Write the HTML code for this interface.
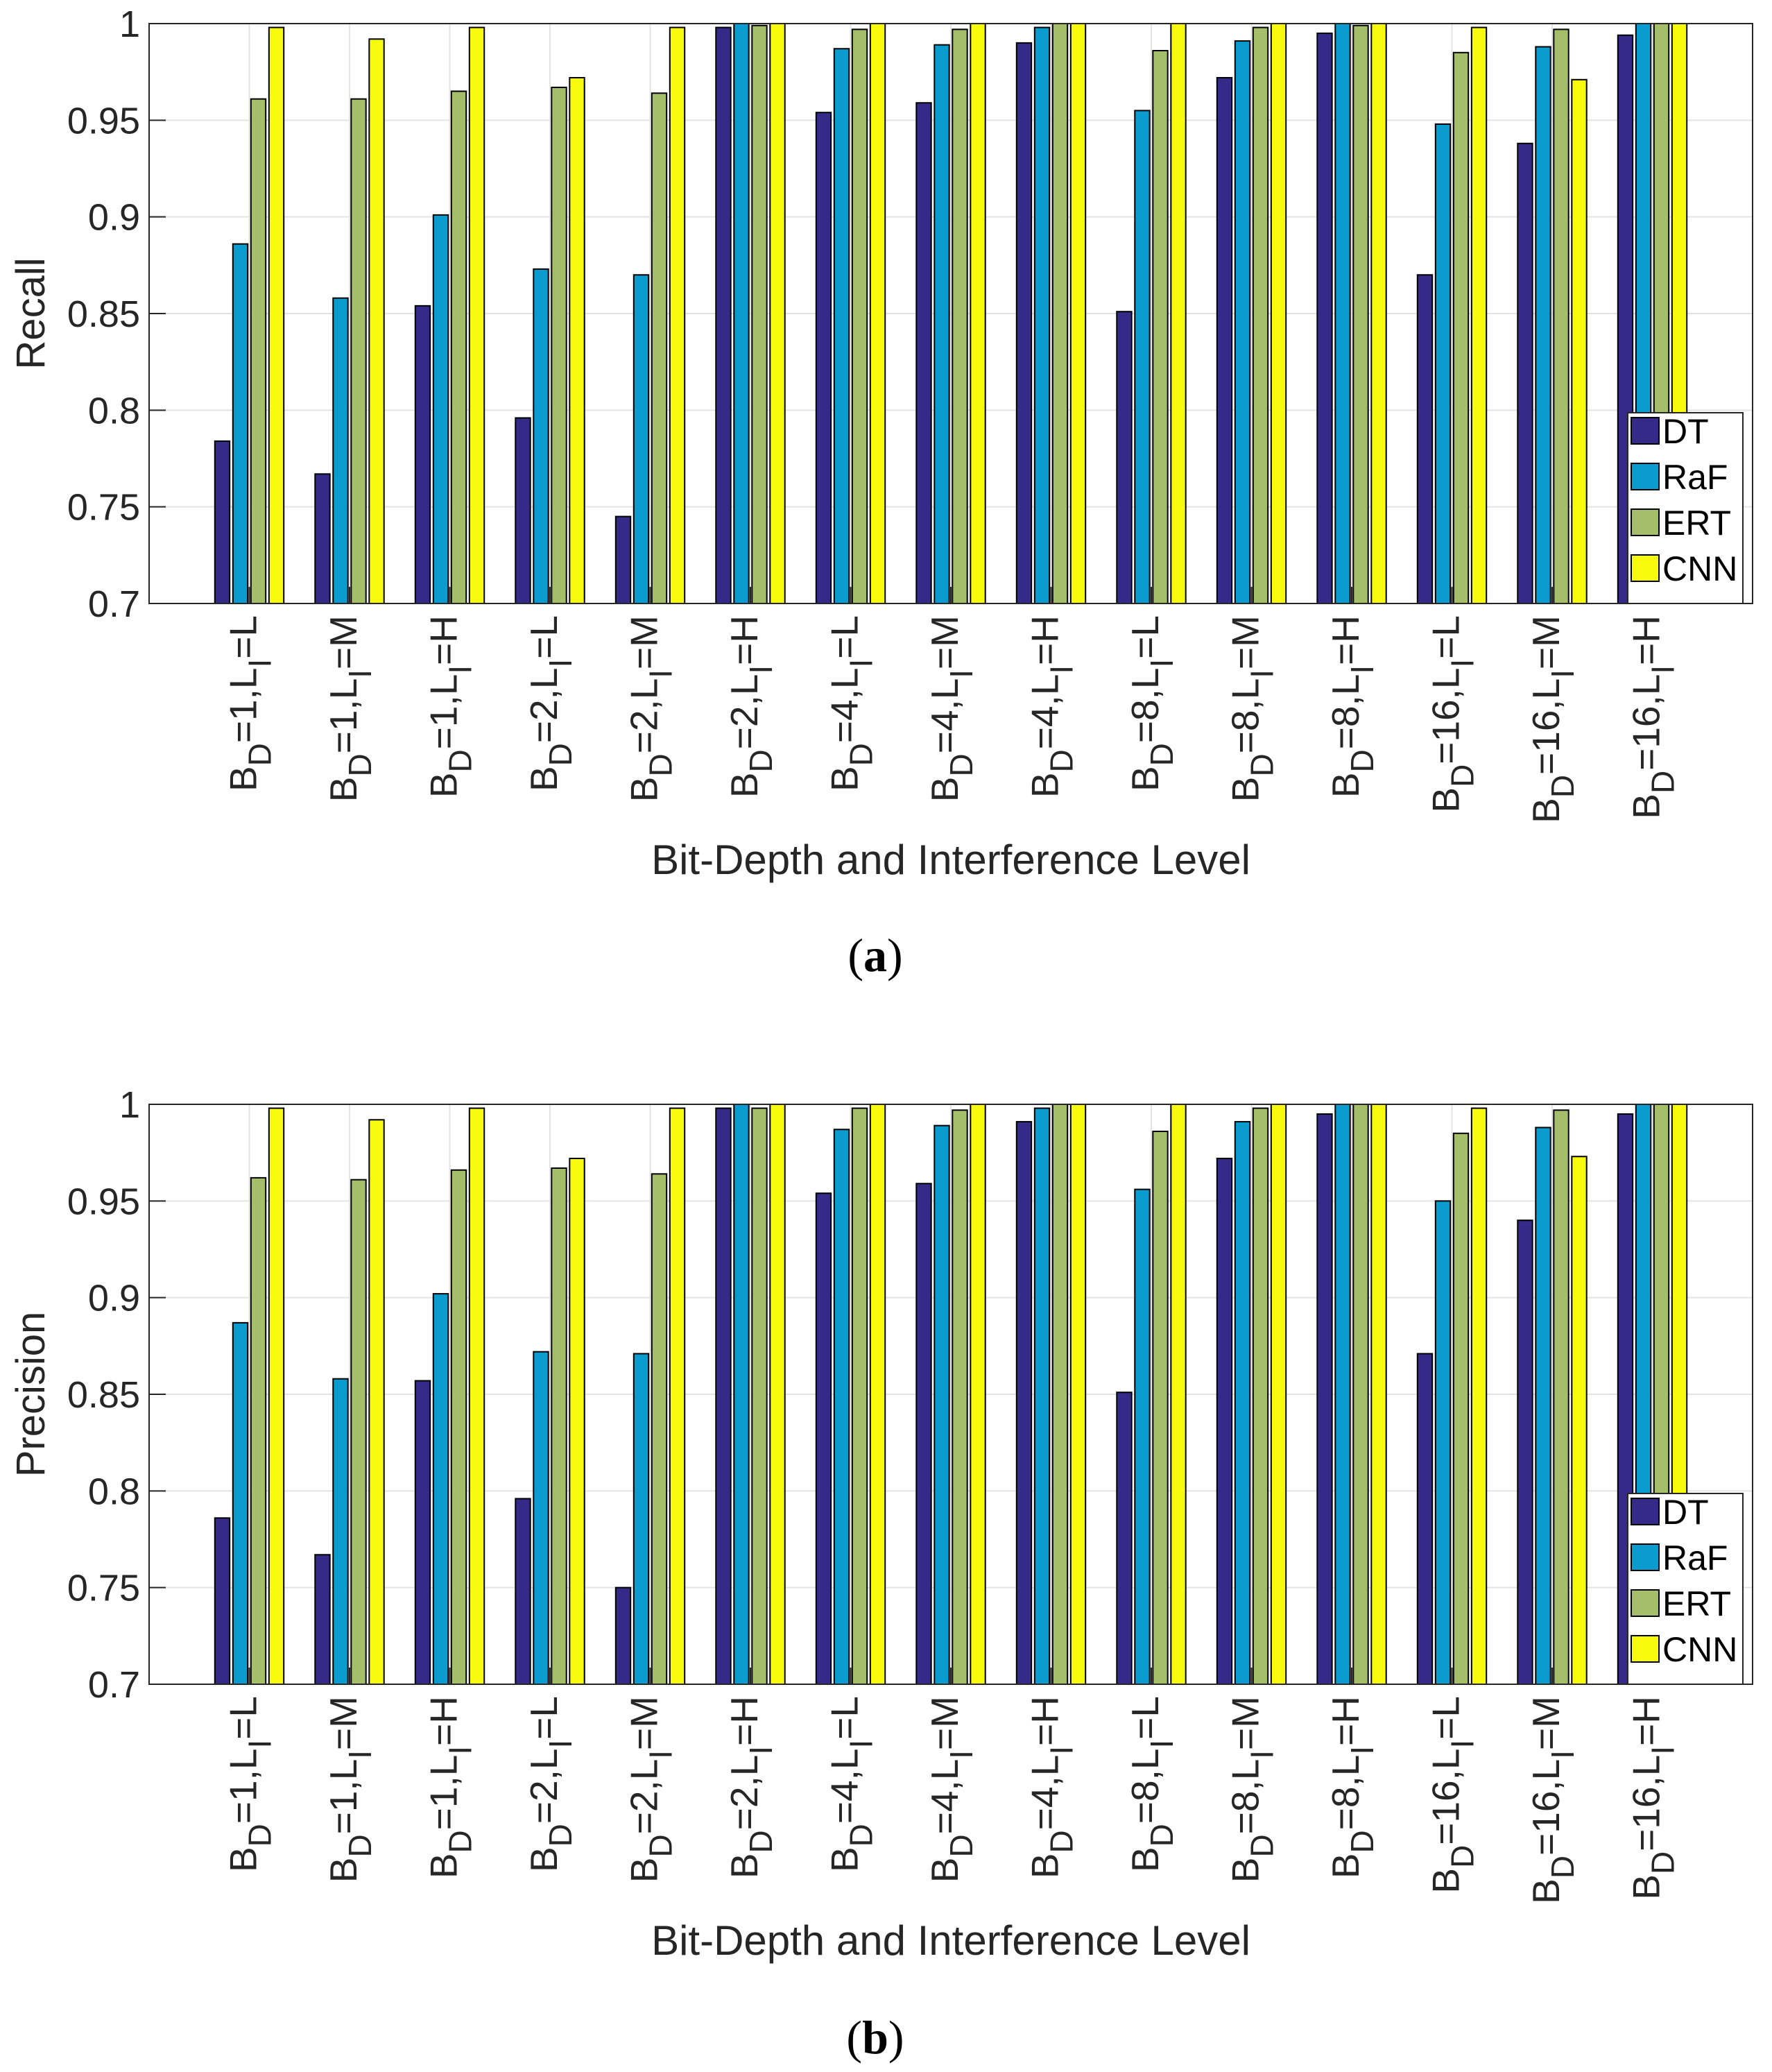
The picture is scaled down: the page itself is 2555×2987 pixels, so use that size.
<!DOCTYPE html>
<html><head><meta charset="utf-8"><style>
html,body{margin:0;padding:0;background:#fff;}
svg{display:block;font-family:"Liberation Sans",Arial,sans-serif;}
</style></head><body>
<svg id="fig" width="2555" height="2987" viewBox="0 0 2555 2987" xmlns="http://www.w3.org/2000/svg"></svg>
<script>
const categories=[["1","L"],["1","M"],["1","H"],["2","L"],["2","M"],["2","H"],["4","L"],["4","M"],["4","H"],["8","L"],["8","M"],["8","H"],["16","L"],["16","M"],["16","H"]];
const seriesNames=["DT","RaF","ERT","CNN"];
const recallDT=[0.784,0.767,0.854,0.796,0.745,0.998,0.954,0.959,0.990,0.851,0.972,0.995,0.870,0.938,0.994];
const recallRaF=[0.886,0.858,0.901,0.873,0.870,1.0,0.987,0.989,0.998,0.955,0.991,1.0,0.948,0.988,1.0];
const recallERT=[0.961,0.961,0.965,0.967,0.964,0.999,0.997,0.997,1.0,0.986,0.998,0.999,0.985,0.997,1.0];
const recallCNN=[0.998,0.992,0.998,0.972,0.998,1.0,1.0,1.0,1.0,1.0,1.0,1.0,0.998,0.971,1.0];
const precDT=[0.786,0.767,0.857,0.796,0.750,0.998,0.954,0.959,0.991,0.851,0.972,0.995,0.871,0.940,0.995];
const precRaF=[0.887,0.858,0.902,0.872,0.871,1.0,0.987,0.989,0.998,0.956,0.991,1.0,0.950,0.988,1.0];
const precERT=[0.962,0.961,0.966,0.967,0.964,0.998,0.998,0.997,1.0,0.986,0.998,1.0,0.985,0.997,1.0];
const precCNN=[0.998,0.992,0.998,0.972,0.998,1.0,1.0,1.0,1.0,1.0,1.0,1.0,0.998,0.973,1.0];
const yTicks=[0.7,0.75,0.8,0.85,0.9,0.95,1];
const yTickLabels=["0.7","0.75","0.8","0.85","0.9","0.95","1"];
const colors=["#352a87","#0a9bcf","#a5be69","#f8fa0d"];
const NS="http://www.w3.org/2000/svg";
const svg=document.getElementById("fig");
function mk(tag,attrs,parent){const e=document.createElementNS(NS,tag);for(const k in attrs)e.setAttribute(k,attrs[k]);(parent||svg).appendChild(e);return e;}

function drawPanel(cfg){
  const L=215,R=2527,T=cfg.top,B=cfg.bottom;
  const g=mk("g",{});
  
  
  const xS=v=>L+(v/16)*(R-L);
  const yS=v=>B-(v-0.7)/0.3*(B-T);
  yTicks.forEach((t,i)=>{
    const ln=mk("line",{x1:L,x2:R,y1:yS(t),y2:yS(t),stroke:"#e3e3e3","stroke-width":2},g);
    
    
  });
  categories.forEach((c,i)=>{
    const ln=mk("line",{x1:xS(i+1),x2:xS(i+1),y1:T,y2:B,stroke:"#e3e3e3","stroke-width":2},g);
    
    
  });
  const offs=[-0.27,-0.09,0.09,0.27],bw=0.148;
  cfg.series.forEach((arr,s)=>{
    arr.forEach((v,i)=>{
      const cx=xS(i+1+offs[s]);const w=bw*(R-L)/16;
      const y=yS(Math.min(v,1));
      const r=mk("rect",{x:cx-w/2,y:y,width:w,height:B-y,fill:colors[s],stroke:"#000","stroke-width":2},g);
      
      
    });
  });
  const box=mk("rect",{x:L,y:T,width:R-L,height:B-T,fill:"none",stroke:"#262626","stroke-width":2},g);
  
  
  yTicks.forEach((t,i)=>{
    mk("line",{x1:L,x2:L+24,y1:yS(t),y2:yS(t),stroke:"#262626","stroke-width":2},g);
    const tx=mk("text",{x:202,y:yS(t)+19,"text-anchor":"end","font-size":54,fill:"#262626"},g);
    tx.textContent=yTickLabels[i];
    
    
  });
  categories.forEach((c,i)=>{
    const cx=xS(i+1);
    mk("line",{x1:cx,x2:cx,y1:B,y2:B-24,stroke:"#262626","stroke-width":2},g);
    const tx=mk("text",{transform:`translate(${cx+10},${B+17}) rotate(-90)`,"text-anchor":"end","font-size":55,fill:"#262626"},g);
    
    
    const parts=[["B",0],["D",1],["="+c[0]+",L",0],["I",1],["="+c[1],0]];
    parts.forEach(p=>{
      const ts=mk("tspan",{},tx);
      if(p[1]){ts.setAttribute("baseline-shift","-45%");ts.setAttribute("font-size","46");}
      ts.textContent=p[0];
    });
  });
  const yl=mk("text",{transform:`translate(64,${(T+B)/2}) rotate(-90)`,"text-anchor":"middle","font-size":58,fill:"#262626"},g);
  yl.textContent=cfg.ylabel;
  
  
  const xl=mk("text",{x:(L+R)/2,y:cfg.xlabelY,"text-anchor":"middle","font-size":60,fill:"#262626"},g);
  xl.textContent="Bit-Depth and Interference Level";
  
  
  const cap=mk("text",{x:1262,y:cfg.capY,"text-anchor":"middle","font-size":68,fill:"#000","font-family":"Liberation Serif, serif"},g);
  
  
  const a=mk("tspan",{},cap);a.textContent="(";
  const b=mk("tspan",{"font-weight":"bold"},cap);b.textContent=cfg.cap;
  const c2=mk("tspan",{},cap);c2.textContent=")";
  const lx=2347,ly=B-275,lw=166,lh=275;
  const lg=mk("g",{},g);
  
  
  mk("rect",{x:lx,y:ly,width:lw,height:lh,fill:"#fff",stroke:"#262626","stroke-width":2},lg);
  seriesNames.forEach((n,s)=>{
    const ey=ly+7+s*66;
    const ent=mk("g",{},lg);
    
    
    mk("rect",{x:lx+5,y:ey,width:40,height:38,fill:colors[s],stroke:"#000","stroke-width":2},ent);
    const t=mk("text",{x:lx+50,y:ey+37,"font-size":50,fill:"#000"},ent);
    t.textContent=n;
  });
}
drawPanel({name:'recall-chart',top:34,bottom:870,series:[recallDT,recallRaF,recallERT,recallCNN],ylabel:"Recall",xlabelY:1260,capY:1400,cap:"a"});
drawPanel({name:'precision-chart',top:1592,bottom:2428,series:[precDT,precRaF,precERT,precCNN],ylabel:"Precision",xlabelY:2818,capY:2960,cap:"b"});
</script>
</body></html>
